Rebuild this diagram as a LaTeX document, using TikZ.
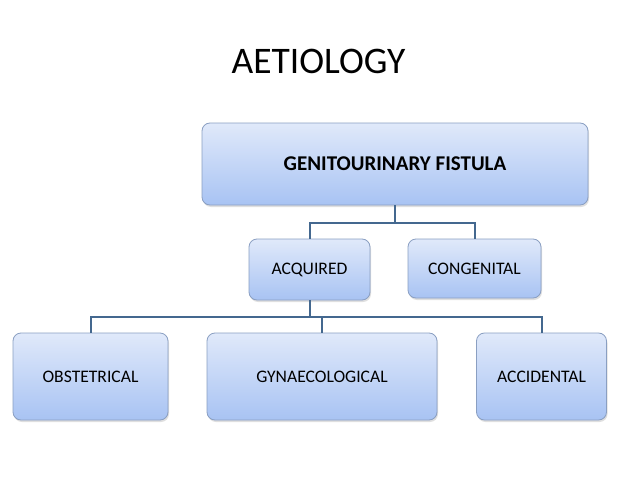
\documentclass[tikz,border=0pt]{standalone}
\usepackage{fontspec}
\setmainfont{Carlito}
\usetikzlibrary{shadows}
\definecolor{boxtop}{HTML}{E0E9FA}
\definecolor{boxbot}{HTML}{A8C3F3}
\definecolor{boxborder}{HTML}{8A9FC2}
\definecolor{connc}{HTML}{44688F}
\begin{document}
\begin{tikzpicture}[x=1pt,y=-1pt,
  box/.style={draw=boxborder, line width=0.8pt, rounded corners=8pt,
    top color=boxtop, bottom color=boxbot, inner sep=0pt, text=black,
    font=\fontsize{17.6}{21}\selectfont,
    drop shadow={opacity=0.25, shadow xshift=1pt, shadow yshift=-2pt}},
  conn/.style={draw=connc, line width=2pt}]
\useasboundingbox[fill=white] (0,0) rectangle (638,479);
\node[font=\fontsize{37.5}{44}\selectfont] (title) at (318.5,61) {AETIOLOGY};
\node[box, minimum width=386pt, minimum height=82pt, font=\bfseries\fontsize{21}{24}\selectfont] (gf) at (395,164) {GENITOURINARY FISTULA};
\node[box, minimum width=121pt, minimum height=61pt] (acq) at (309.5,269.5) {ACQUIRED};
\node[box, minimum width=133pt, minimum height=59pt] (con) at (474.5,268.5) {CONGENITAL};
\node[box, minimum width=155pt, minimum height=87pt] (obs) at (90.5,376.5) {OBSTETRICAL};
\node[box, minimum width=230pt, minimum height=87pt] (gyn) at (322,376.5) {GYNAECOLOGICAL};
\node[box, minimum width=130pt, minimum height=87pt] (acc) at (541.5,376.5) {ACCIDENTAL};
\coordinate (j1) at (395,223);
\coordinate (j2) at (309.5,317);
\draw[conn] (gf.south) -- (j1) -| (acq.north);
\draw[conn] (j1) -| (con.north);
\draw[conn] (acq.south) -- (j2) -| (obs.north);
\draw[conn] (j2) -| (gyn.north);
\draw[conn] (j2) -| (acc.north);
\end{tikzpicture}
\end{document}
